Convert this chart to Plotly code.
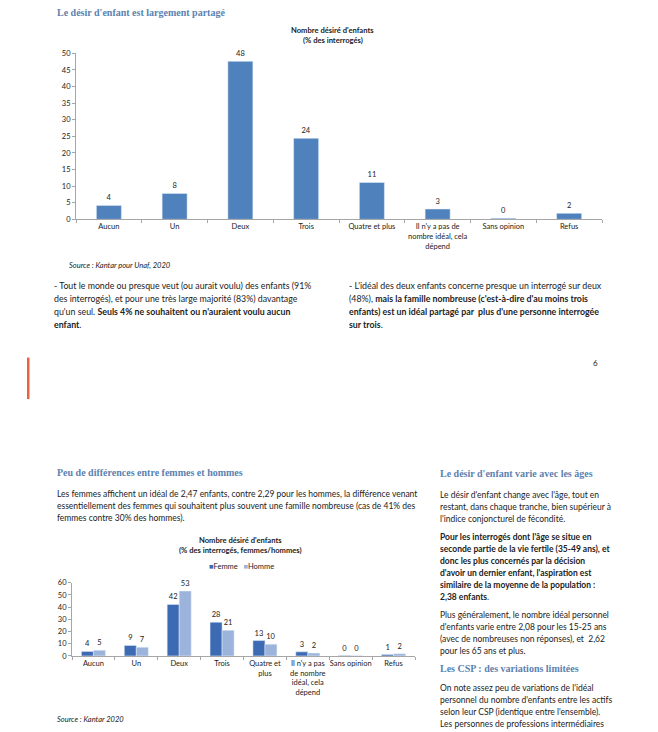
import plotly.graph_objects as go

W, H = 658, 732

# ---------------- data ----------------
cats_top = ["Aucun", "Un", "Deux", "Trois", "Quatre et plus",
            "Il n'y a pas de<br>nombre idéal, cela<br>dépend", "Sans opinion", "Refus"]
vals_top = [4.2, 7.8, 47.6, 24.4, 11.1, 3.1, 0.3, 1.8]

cats_bot = ["Aucun", "Un", "Deux", "Trois", "Quatre et<br>plus",
            "Il n'y a pas<br>de nombre<br>idéal, cela<br>dépend", "Sans opinion", "Refus"]
vals_femme = [3.7, 8.6, 42.2, 27.6, 12.6, 3.3, 0.3, 1.1]
vals_homme = [4.6, 7.0, 53.2, 21.0, 9.6, 2.3, 0.1, 1.8]

ticks_top = [0, 5, 10, 15, 20, 25, 30, 35, 40, 45, 50]
ticks_bot = [0, 10, 20, 30, 40, 50, 60]

BLUE = "#4f81bd"
FEMME = "#3d6bb3"
HOMME = "#9cb4dc"
HEAD = "#5b82b0"
TXT = "#222222"
AX = "#a6a6a6"
BODY = "Lato"
SERIF = "Liberation Serif"


def px(x):
    return x / W


def py(y):
    return 1 - y / H


fig = go.Figure()

fig.add_trace(go.Bar(
    x=cats_top, y=vals_top, marker_color=BLUE, width=0.38,
    texttemplate="%{y:.0f}", textposition="outside",
    textfont=dict(size=7.5, color=TXT, family=BODY),
    cliponaxis=False, showlegend=False, xaxis="x", yaxis="y"))

fig.add_trace(go.Bar(
    x=cats_bot, y=vals_femme, name="Femme", marker_color=FEMME,
    width=0.28, offset=-0.28,
    texttemplate="%{y:.0f}", textposition="outside",
    textfont=dict(size=7.5, color=TXT, family=BODY),
    cliponaxis=False, showlegend=False, xaxis="x2", yaxis="y2"))
fig.add_trace(go.Bar(
    x=cats_bot, y=vals_homme, name="Homme", marker_color=HOMME,
    width=0.28, offset=0.0,
    texttemplate="%{y:.0f}", textposition="outside",
    textfont=dict(size=7.5, color=TXT, family=BODY),
    cliponaxis=False, showlegend=False, xaxis="x2", yaxis="y2"))

axis_common = dict(showline=True, linecolor=AX, linewidth=1, ticks="outside",
                   ticklen=3, tickcolor=AX, showgrid=False, zeroline=False,
                   tickfont=dict(size=7.5, color=TXT, family=BODY), fixedrange=True)

fig.update_layout(
    width=W, height=H, margin=dict(l=0, r=0, t=0, b=0),
    paper_bgcolor="white", plot_bgcolor="white",
    font=dict(family=BODY, color=TXT),
    xaxis=dict(domain=[px(76), px(602)], anchor="y", tickson="boundaries",
               type="category", tickangle=0, **axis_common),
    yaxis=dict(domain=[py(218), py(50)], anchor="x", range=[0, 50],
               tickvals=ticks_top, **axis_common),
    xaxis2=dict(domain=[px(72), px(415)], anchor="y2", tickson="boundaries",
                type="category", tickangle=0, **axis_common),
    yaxis2=dict(domain=[py(660), py(586)], anchor="x2", range=[0, 60],
                tickvals=ticks_bot, **axis_common),
    showlegend=False,
)

ann = []


def text(x, y, s, size=8.5, family=BODY, color=TXT, anchor="left"):
    ann.append(dict(x=px(x), y=py(y), xref="paper", yref="paper", text=s,
                    showarrow=False, xanchor=anchor, yanchor="middle",
                    font=dict(size=size, family=family, color=color)))


def para(x, y0, lines, step, size=8.5):
    for i, s in enumerate(lines):
        text(x, y0 + i * step, s, size=size)


HS = 10
# headings
text(55, 9, "<b>Le désir d'enfant est largement partagé</b>", size=HS, family=SERIF, color=HEAD)
text(55, 474, "<b>Peu de différences entre femmes et hommes</b>", size=HS, family=SERIF, color=HEAD)
text(438, 475, "<b>Le désir d'enfant varie avec les âges</b>", size=HS, family=SERIF, color=HEAD)
text(438, 673, "<b>Les CSP : des variations limitées</b>", size=HS, family=SERIF, color=HEAD)

# chart titles
text(333, 26, "<b>Nombre désiré d'enfants</b>", size=7.6, anchor="center")
text(333, 36, "<b>(% des interrogés)</b>", size=7.6, anchor="center")
text(240, 543, "<b>Nombre désiré d'enfants</b>", size=7.6, anchor="center")
text(240, 553, "<b>(% des interrogés, femmes/hommes)</b>", size=7.6, anchor="center")

# legend (bottom chart)
text(241, 570, "<span style='color:%s'>■</span>Femme   <span style='color:%s'>■</span>Homme" % (FEMME, HOMME),
     size=7.5, anchor="center")

# sources
text(67, 265, "<i>Source : Kantar pour Unaf, 2020</i>", size=7.5)
text(55, 724, "<i>Source : Kantar 2020</i>", size=7.5)

para(52, 285, [
    "- Tout le monde ou presque veut (ou aurait voulu) des enfants (91%",
    "des interrogés), et pour une très large majorité (83%) davantage",
    "qu'un seul. <b>Seuls 4% ne souhaitent ou n'auraient voulu aucun</b>",
    "<b>enfant</b>.",
], 13, size=8.8)

para(347, 285, [
    "- L'idéal des deux enfants concerne presque un interrogé sur deux",
    "(48%), <b>mais la famille nombreuse (c'est-à-dire d'au moins trois</b>",
    "<b>enfants) est un idéal partagé par  plus d'une personne interrogée</b>",
    "<b>sur trois</b>.",
], 13, size=8.8)

para(55, 496, [
    "Les femmes affichent un idéal de 2,47 enfants, contre 2,29 pour les hommes, la différence venant",
    "essentiellement des femmes qui souhaitent plus souvent une famille nombreuse (cas de 41% des",
    "femmes contre 30% des hommes).",
], 12)

para(438, 497, [
    "Le désir d'enfant change avec l'âge, tout en",
    "restant, dans chaque tranche, bien supérieur à",
    "l'indice conjoncturel de fécondité.",
], 12)
para(438, 540, [
    "<b>Pour les interrogés dont l'âge se situe en</b>",
    "<b>seconde partie de la vie fertile (35-49 ans), et</b>",
    "<b>donc les plus concernés par la décision</b>",
    "<b>d'avoir un dernier enfant, l'aspiration est</b>",
    "<b>similaire de la moyenne de la population :</b>",
    "<b>2,38 enfants</b>.",
], 12)
para(438, 619, [
    "Plus généralement, le nombre idéal personnel",
    "d'enfants varie entre 2,08 pour les 15-25 ans",
    "(avec de nombreuses non réponses), et  2,62",
    "pour les 65 ans et plus.",
], 12)
para(438, 693, [
    "On note assez peu de variations de l'idéal",
    "personnel du nombre d'enfants entre les actifs",
    "selon leur CSP (identique entre l'ensemble).",
    "Les personnes de professions intermédiaires",
], 12)

# page number
text(600, 363, "6", size=8, anchor="right")

fig.update_layout(annotations=ann)

fig.add_shape(type="rect", xref="paper", yref="paper",
              x0=px(27), x1=px(29.5), y0=py(400), y1=py(358),
              fillcolor="#e8623f", line_width=0)

fig.write_html("out.html",
               config={"displayModeBar": False},
               post_script="document.body.style.margin='0px';document.body.style.padding='0px';")
